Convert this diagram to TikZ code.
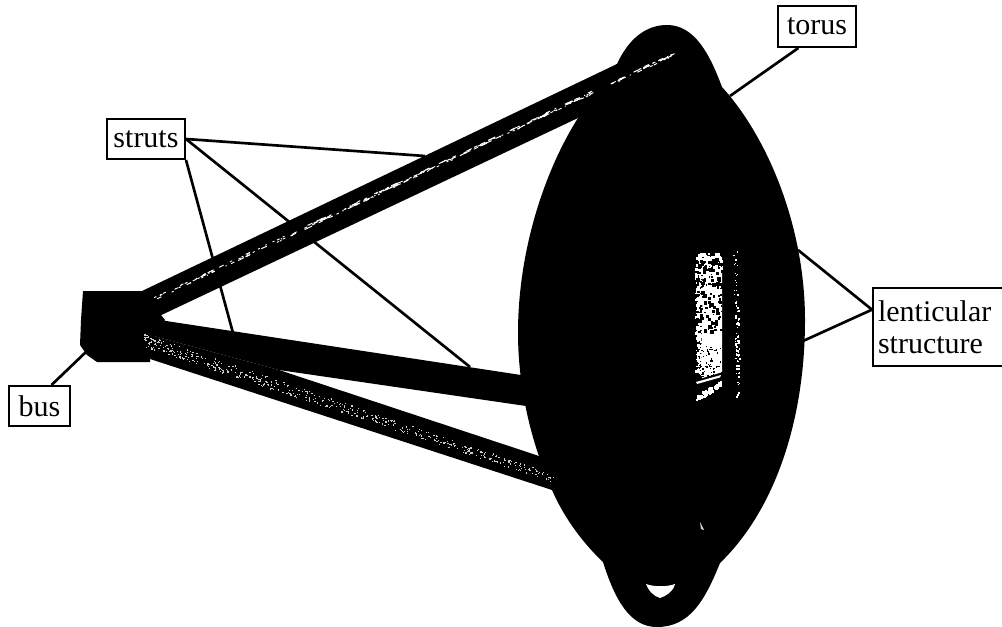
\documentclass[tikz,border=0pt]{standalone}
\usepackage{fontspec}
\setmainfont{Liberation Serif}
\usetikzlibrary{calc}
\tikzset{
  labelbox/.style={draw=black,line width=1.5pt,fill=white,inner sep=0pt,font=\fontsize{22.5}{24}\selectfont,text=black},
  leader/.style={draw=black,line width=2pt},
  mass/.style={fill=black},
}
\begin{document}
\begin{tikzpicture}[x=0.75pt,y=-0.75pt]
\useasboundingbox (0,0) rectangle (1002,627);
\fill[white] (0,0) rectangle (1002,627);
% label boxes (named first, so connectors can refer to them)
\node[labelbox,minimum width=58.5pt,minimum height=30.75pt] (torusbox) at (817,26.5) {torus};
\node[labelbox,minimum width=58.5pt,minimum height=30pt] (strutsbox) at (146,139) {struts};
\node[labelbox,minimum width=45.75pt,minimum height=30pt] (busbox) at (39.5,406) {bus};
\node[labelbox,minimum height=58.5pt,text width=93pt,inner xsep=3.75pt,align=left,anchor=west] (lensbox) at (872,327) {lenticular\\structure};
% free ends of connectors
\coordinate (torusend) at (730,96);
\coordinate (busend) at (87,351);
\coordinate (strutA) at (425,156);
\coordinate (strutB) at (470,367);
\coordinate (strutC) at (233,333);
\coordinate (lensA) at (798,250);
\coordinate (lensB) at (803,341);
% connectors lying behind the spacecraft
\draw[leader] (strutsbox.east) -- (strutA);
\draw[leader] (strutsbox.east) -- (strutB);
\draw[leader] (strutsbox.south east) -- (strutC);
\draw[leader] ([xshift=-14pt]torusbox.south) -- (torusend);
\draw[leader] ([xshift=9pt]busbox.north) -- (busend);
\draw[leader] ([yshift=13pt]lensbox.west) -- (lensA);
\draw[leader] ([yshift=13pt]lensbox.west) -- (lensB);
% bus
\fill[mass] (83,291) -- (142,291) -- (165,320) -- (150,345) -- (150,362) -- (97,362) -- (87,355) -- (80,345) -- (81,320) -- cycle;
% struts
\fill[mass] (142,291) -- (617,64) -- (640,100) -- (578,118) -- (153,319) -- cycle;
\fill[mass] (153,319) -- (521,375) -- (560,390) -- (526,406) -- (279,370) -- (150,335) -- cycle;
\fill[mass] (150,359) -- (552,490) -- (600,480) -- (536,455) -- (279,370) -- (150,335) -- cycle;
% torus and lenticular structure
\fill[mass] (617,64)
  .. controls (628,40) and (645,25) .. (667,25)
  .. controls (695,25) and (710,55) .. (722,87)
  .. controls (770,140) and (805,230) .. (805,320)
  .. controls (805,420) and (775,510) .. (720,563)
  .. controls (705,600) and (690,627) .. (657,627)
  .. controls (630,627) and (615,600) .. (603,562)
  .. controls (585,545) and (565,520) .. (552,490)
  .. controls (530,440) and (518,385) .. (518,333)
  .. controls (518,250) and (545,170) .. (578,118)
  -- cycle;
% highlights
\fill[white] (646,584) .. controls (654,587) and (667,587) .. (675,584) .. controls (673,592) and (666,596) .. (660,598) .. controls (653,596) and (648,590) .. (646,584) -- cycle;
\fill[white!85!black] (700,522) -- (704,530) -- (701,529) -- cycle;
\pgfmathsetseed{4711}
% speckle along upper strut
\foreach \i in {1,...,300}{
  \pgfmathsetmacro{\tt}{rnd}
  \pgfmathsetmacro{\px}{152+520*\tt}
  \pgfmathsetmacro{\py}{300-245*\tt+(rnd-.5)*3}
  \pgfmathsetmacro{\ln}{1+rnd*rnd*7}
  \pgfmathparse{(\px>296 && \px<304) || (\px>598 && \px<610) ? 0 : 1}
  \ifnum\pgfmathresult>0
    \draw[white,line width=.7pt] (\px,\py) -- ++(\ln,-.47*\ln);
  \fi
}
% speckle along lower strut
\foreach \i in {1,...,520}{
  \pgfmathsetmacro{\tt}{rnd^1.2}
  \pgfmathsetmacro{\px}{143+410*\tt}
  \pgfmathsetmacro{\py}{340+138*\tt+(rnd-.5)*13*(1-\tt*.4)}
  \fill[white!80!black] (\px,\py) rectangle ++(1.2,1.2);
}
% window in the lens
\fill[white] (703,270) -- (722,270) -- (722,376) -- (701,376) -- cycle;
\foreach \i in {1,...,300}{
  \pgfmathsetmacro{\px}{695+rnd*12}
  \pgfmathsetmacro{\py}{256+rnd*122}
  \pgfmathsetmacro{\sz}{1+rnd*3}
  \fill[white] (\px,\py) rectangle ++(\sz,\sz);
}
\foreach \i in {1,...,160}{
  \pgfmathsetmacro{\py}{253+rnd*18}
  \pgfmathsetmacro{\px}{698+rnd*22}
  \pgfmathsetmacro{\sz}{1.5+rnd*2}
  \fill[white] (\px,\py) rectangle ++(\sz,\sz);
}
\foreach \i in {1,...,130}{
  \pgfmathsetmacro{\rr}{rnd}
  \pgfmathsetmacro{\py}{258+\rr*\rr*70+rnd*6}
  \pgfmathsetmacro{\px}{696+rnd*25}
  \pgfmathsetmacro{\sz}{1+rnd*3}
  \fill[black] (\px,\py) rectangle ++(\sz,\sz);
}
\foreach \i in {1,...,70}{
  \pgfmathsetmacro{\py}{345+rnd*32}
  \pgfmathsetmacro{\px}{697+rnd*24}
  \fill[black] (\px,\py) rectangle ++(1.3,1.3);
}
\fill[black] (693,381) -- (723,372) -- (723,379) -- (693,387) -- cycle;
\fill[white] (696,382) -- (721,375) -- (720,377.5) -- (697,384) -- cycle;
\foreach \i in {1,...,75}{
  \pgfmathsetmacro{\rr}{rnd}
  \pgfmathsetmacro{\px}{696+\rr*24}
  \pgfmathsetmacro{\py}{400-\rr*14-rnd*5}
  \fill[white] (\px,\py) rectangle ++(2.2,2.2);
}
% faint line right of the window
\foreach \i in {1,...,110}{
  \pgfmathsetmacro{\rr}{rnd}
  \pgfmathsetmacro{\py}{251+\rr*145}
  \pgfmathsetmacro{\px}{733+\rr*3+rnd*4}
  \pgfmathsetmacro{\sz}{.8+rnd*1.2}
  \pgfmathparse{(\py>310 && \py<380) || rnd<.45 ? 1 : 0}
  \ifnum\pgfmathresult>0
    \fill[white] (\px,\py) rectangle ++(\sz,\sz);
  \fi
}
\end{tikzpicture}
\end{document}
